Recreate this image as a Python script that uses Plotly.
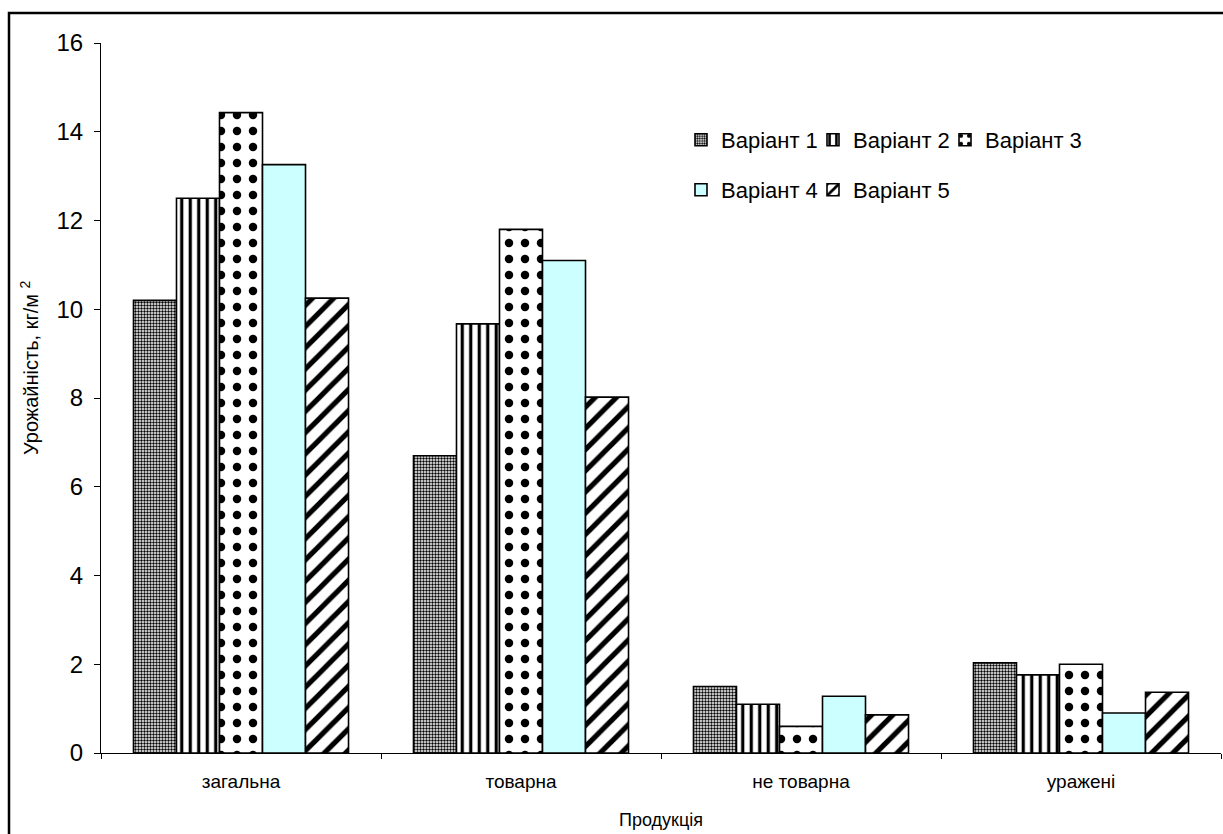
import plotly.graph_objects as go

# Product categories (x axis) and yield per variant, kg/m²
categories = ["загальна", "товарна", "не товарна", "уражені"]
variant_names = ["Варіант 1", "Варіант 2", "Варіант 3", "Варіант 4", "Варіант 5"]

variant_1 = [10.2, 6.7, 1.5, 2.03]
variant_2 = [12.5, 9.67, 1.1, 1.76]
variant_3 = [14.43, 11.8, 0.6, 2.0]
variant_4 = [13.26, 11.1, 1.28, 0.9]
variant_5 = [10.25, 8.02, 0.86, 1.37]

y_ticks = [0, 2, 4, 6, 8, 10, 12, 14, 16]

FONT = "Arial, Liberation Sans, sans-serif"

# plot area in pixels
L, R, T, B = 101, 2, 43, 81
W, H = 1223, 834
PW, PH = W - L - R, H - T - B

# fill style per variant: pattern shape, pattern size, solidity, background colour
styles = [
    dict(shape=".", size=3, solidity=0.5, bgcolor="white"),
    dict(shape="|", size=8.5, solidity=0.38, bgcolor="white"),
    dict(shape=".", size=16, solidity=0.22, bgcolor="white"),
    dict(shape="", size=8, solidity=0.3, bgcolor="#CCFFFF"),
    dict(shape="/", size=15, solidity=0.35, bgcolor="white"),
]

# each legend entry sits in its own legend box: (left px, row centre px)
legend_pos = [(681, 140), (813, 140), (945, 140), (681, 190), (813, 190)]

series = [variant_1, variant_2, variant_3, variant_4, variant_5]
legend_ids = ["legend", "legend2", "legend3", "legend4", "legend5"]

fig = go.Figure()
for name, vals, st, lg in zip(variant_names, series, styles, legend_ids):
    fig.add_trace(go.Bar(
        x=categories,
        y=vals,
        name=name,
        legend=lg,
        showlegend=True,
        marker=dict(
            color=st["bgcolor"],
            line=dict(color="black", width=1.6),
            pattern=dict(
                shape=st["shape"],
                size=st["size"],
                solidity=st["solidity"],
                fgcolor="black",
                bgcolor=st["bgcolor"],
                fillmode="replace",
            ),
        ),
    ))

legend_layout = {}
for lg, (px, py) in zip(legend_ids, legend_pos):
    legend_layout[lg] = dict(
        orientation="h",
        xref="paper", yref="paper",
        x=(px - L) / PW, y=(H - B - py) / PH,
        xanchor="left", yanchor="middle",
        font=dict(family=FONT, size=22, color="black"),
        bgcolor="rgba(0,0,0,0)",
        borderwidth=0,
        itemwidth=30,
    )

fig.update_layout(
    width=W,
    height=H,
    margin=dict(l=L, r=R, t=T, b=B),
    paper_bgcolor="white",
    plot_bgcolor="white",
    showlegend=True,
    barmode="group",
    bargap=0.232,
    bargroupgap=0,
    font=dict(family=FONT, color="black"),
    xaxis=dict(
        showline=True, linecolor="black", linewidth=1,
        ticks="outside", ticklen=5, tickcolor="black", tickson="boundaries",
        showgrid=False,
        tickfont=dict(family=FONT, size=19, color="black"),
        ticklabelstandoff=11,
        title=dict(text="Продукція", font=dict(family=FONT, size=18, color="black"), standoff=22),
    ),
    yaxis=dict(
        range=[0, 16],
        tickvals=y_ticks,
        showline=True, linecolor="black", linewidth=1,
        ticks="outside", ticklen=6, tickcolor="black",
        showgrid=False, zeroline=False,
        tickfont=dict(family=FONT, size=24, color="black"),
        ticklabelstandoff=6,
    ),
    annotations=[
        dict(text="Урожайність, кг/м <sup>2</sup>", textangle=-90,
             xref="paper", yref="paper",
             x=(30 - L) / PW, y=(H - B - 368) / PH,
             xanchor="center", yanchor="middle", showarrow=False,
             font=dict(family=FONT, size=20, color="black")),
    ],
    shapes=[
        dict(type="rect", xref="paper", yref="paper",
             x0=(9 - L) / PW, x1=1.05,
             y0=-0.3, y1=(H - B - 13) / PH,
             line=dict(color="black", width=2.5),
             fillcolor="rgba(0,0,0,0)", layer="below"),
    ],
    **legend_layout,
)

fig.write_html("out.html")
